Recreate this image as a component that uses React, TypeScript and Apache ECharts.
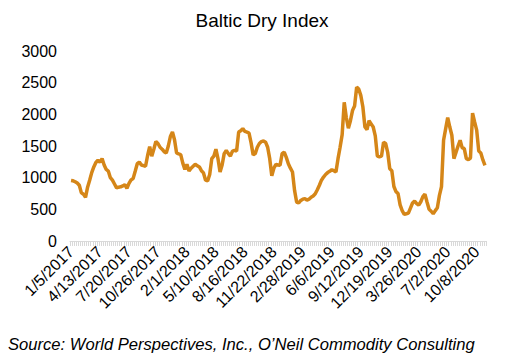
import React, { useEffect, useRef } from "react";
import * as echarts from "echarts";

const TITLE = "Baltic Dry Index";
const SOURCE = "Source: World Perspectives, Inc., O\u2019Neil Commodity Consulting";
const START_DATE = [2017, 1, 5];
const WEEK_COUNT = 201;
const LABEL_EVERY = 14;

// Weekly Baltic Dry Index values
const bdiValues: number[] = [
  955, 950, 935, 915, 880, 760, 740, 690, 850, 960,
  1080, 1170, 1240, 1275, 1245, 1300, 1200, 1130, 1105, 1000,
  960, 900, 840, 850, 855, 870, 890, 830, 910, 965,
  985, 1100, 1220, 1245, 1200, 1190, 1180, 1350, 1490, 1340,
  1450, 1570, 1540, 1480, 1450, 1410, 1390, 1500, 1650, 1720,
  1600, 1390, 1375, 1365, 1230, 1130, 1210, 1105, 1150, 1180,
  1210, 1190, 1170, 1110, 1075, 960, 950, 1050, 1300, 1340,
  1450, 1300, 1090, 1200, 1380, 1430, 1380, 1340, 1420, 1430,
  1420, 1720, 1740, 1775, 1730, 1720, 1705, 1550, 1360, 1380,
  1480, 1540, 1570, 1580, 1560, 1480, 1300, 1030, 1150, 1210,
  1200, 1195, 1380, 1405, 1320, 1220, 1150, 1090, 800, 615,
  600, 640, 660, 670, 645, 660, 690, 710, 745, 810,
  880, 960, 1010, 1050, 1080, 1100, 1125, 1110, 1090, 1300,
  1480, 1680, 2190, 1950, 1780, 1900, 2060, 2130, 2430, 2400,
  2300, 2120, 1800, 1760, 1900, 1850, 1800, 1660, 1340, 1330,
  1340, 1560, 1540, 1400, 1140, 1110, 860, 780, 750, 570,
  480, 420, 430, 440, 520, 600, 630, 590, 565, 620,
  700, 740, 615, 500, 470, 430, 480, 525, 720, 860,
  1590, 1770, 1950, 1800, 1670, 1300, 1400, 1500, 1590, 1470,
  1460, 1300, 1285, 1310, 2020, 1880, 1750, 1420, 1390, 1280,
  1195,
];

const weekDates: string[] = [];
for (let i = 0; i < WEEK_COUNT; i++) {
  const d = new Date(Date.UTC(START_DATE[0], START_DATE[1] - 1, START_DATE[2] + i * 7));
  weekDates.push(`${d.getUTCMonth() + 1}/${d.getUTCDate()}/${d.getUTCFullYear()}`);
}

const FONT = "'Liberation Sans', Arial, sans-serif";

export default function App() {
  const ref = useRef<HTMLDivElement>(null);
  useEffect(() => {
    document.body.style.margin = "0";
    if (!ref.current) return;
    const chart = echarts.init(ref.current, null, { renderer: "svg" });
    chart.setOption({
      animation: false,
      backgroundColor: "#ffffff",
      grid: { left: 70, right: 26, top: 51, bottom: 121, containLabel: false },
      graphic: [
        {
          type: "text",
          x: 262,
          y: 20,
          style: {
            text: TITLE,
            fontFamily: FONT,
            fontSize: 19,
            fill: "#000",
            textAlign: "center",
            textVerticalAlign: "middle",
          },
        },
        {
          type: "text",
          x: 8,
          y: 344,
          style: {
            text: SOURCE,
            fontFamily: FONT,
            fontSize: 16.6,
            fontStyle: "italic",
            fill: "#000",
            textAlign: "left",
            textVerticalAlign: "middle",
          },
        },
      ],
      xAxis: {
        type: "category",
        data: weekDates,
        boundaryGap: true,
        axisLine: { show: true, lineStyle: { color: "#d9d9d9", width: 1 } },
        axisTick: { show: true, interval: 0, length: 5, lineStyle: { color: "#d9d9d9" } },
        axisLabel: {
          interval: LABEL_EVERY - 1,
          rotate: 45,
          fontFamily: FONT,
          fontSize: 16,
          color: "#000",
          margin: 8,
        },
        splitLine: { show: false },
      },
      yAxis: {
        type: "value",
        min: 0,
        max: 3000,
        interval: 500,
        axisLine: { show: false },
        axisTick: { show: false },
        splitLine: { show: false },
        axisLabel: {
          fontFamily: FONT,
          fontSize: 16,
          color: "#000",
          margin: 13,
          formatter: (v: number) => String(v),
        },
      },
      series: [
        {
          type: "line",
          data: bdiValues,
          showSymbol: false,
          symbol: "none",
          lineStyle: { color: "#D58618", width: 3.5 },
          itemStyle: { color: "#D58618" },
        },
      ],
    });
    return () => chart.dispose();
  }, []);
  return <div ref={ref} style={{ width: 512, height: 362 }} />;
}
